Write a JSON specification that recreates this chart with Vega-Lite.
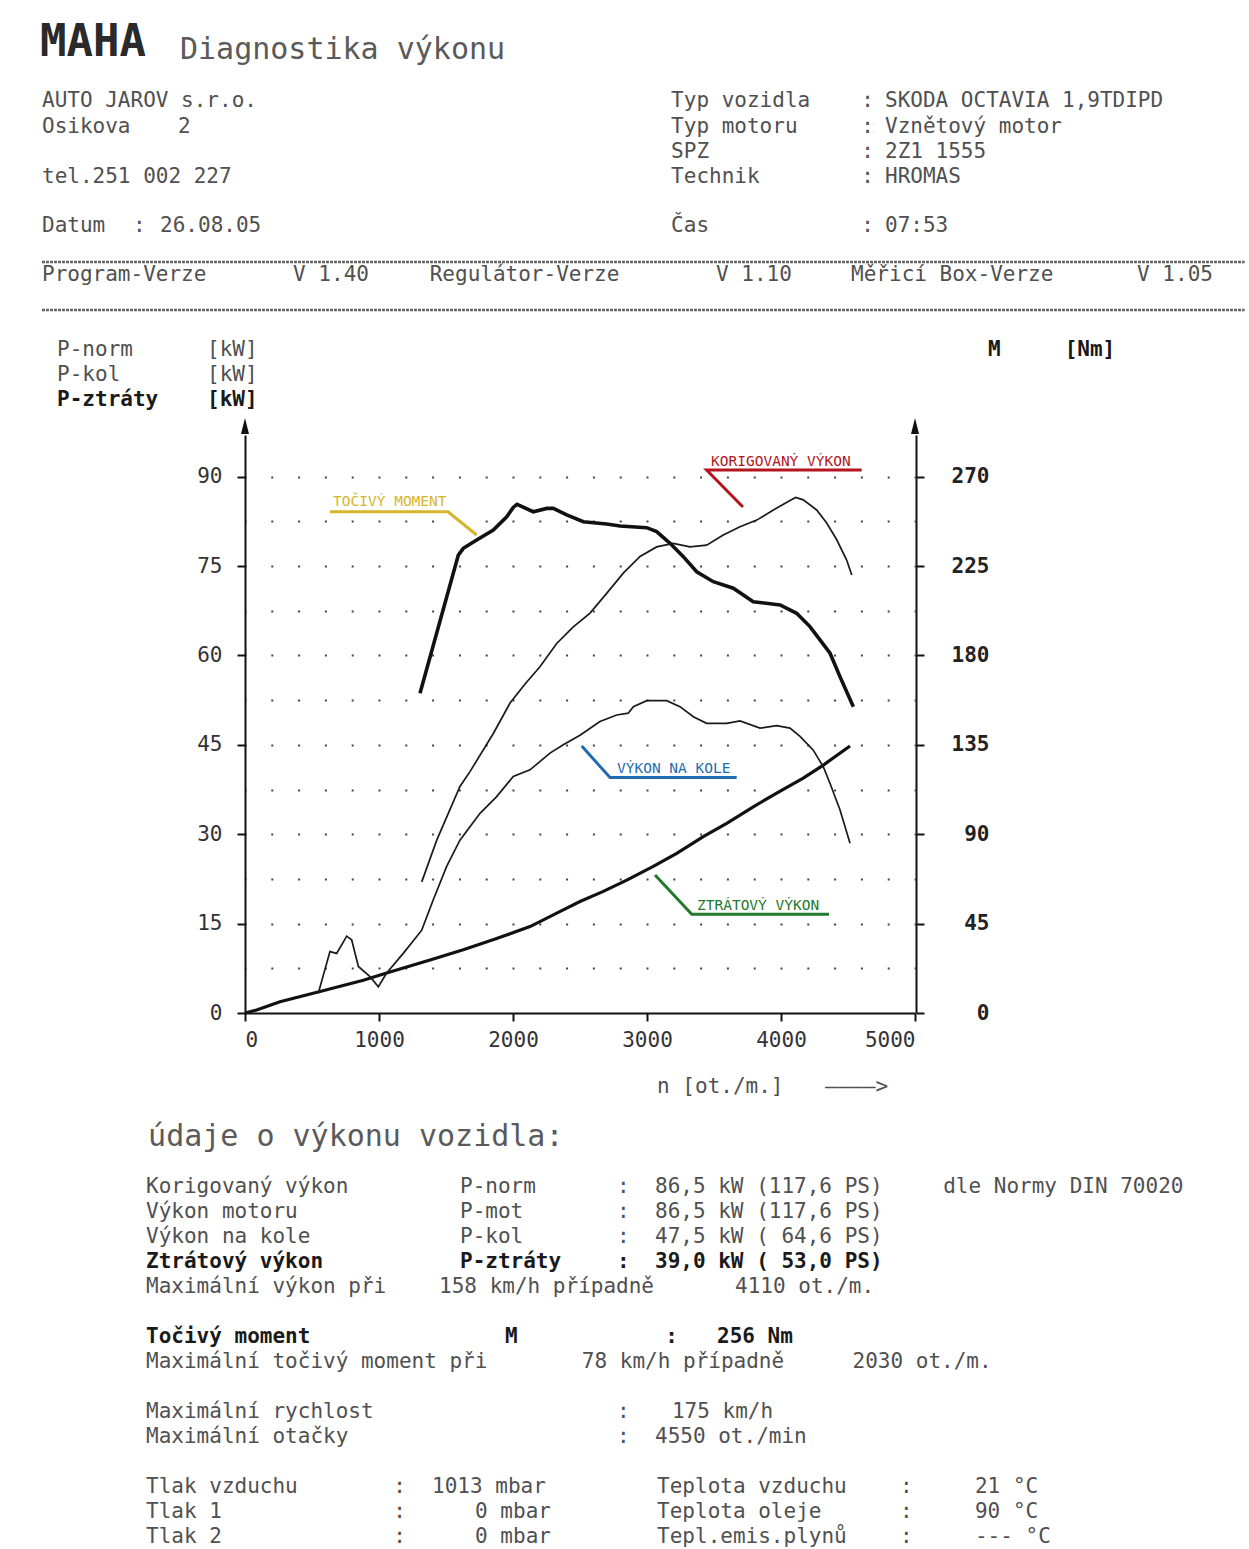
{
  "$schema": "https://vega.github.io/schema/vega-lite/v6.json",
  "width": 1249,
  "height": 1549,
  "autosize": {"type": "none"},
  "padding": 0,
  "background": "white",
  "config": {
    "view": {"stroke": null},
    "axis": {"domainColor": "#111", "domainWidth": 2, "tickColor": "#111", "tickWidth": 2, "tickSize": 8, "labelFont": "DejaVu Sans Mono", "labelFontSize": 21, "labelColor": "#333", "title": null}
  },
  "datasets": {
    "power": [
      {"series": "P-norm", "rpm": 1319, "kw": 22.0}, {"series": "P-norm", "rpm": 1431, "kw": 29.0}, {"series": "P-norm", "rpm": 1604, "kw": 38.0}, {"series": "P-norm", "rpm": 1679, "kw": 40.5}, {"series": "P-norm", "rpm": 1853, "kw": 46.9}, {"series": "P-norm", "rpm": 1978, "kw": 52.0}, {"series": "P-norm", "rpm": 2090, "kw": 55.2}, {"series": "P-norm", "rpm": 2201, "kw": 58.1}, {"series": "P-norm", "rpm": 2326, "kw": 62.0}, {"series": "P-norm", "rpm": 2450, "kw": 64.8}, {"series": "P-norm", "rpm": 2575, "kw": 67.1}, {"series": "P-norm", "rpm": 2699, "kw": 70.4}, {"series": "P-norm", "rpm": 2823, "kw": 73.8}, {"series": "P-norm", "rpm": 2948, "kw": 76.6}, {"series": "P-norm", "rpm": 3072, "kw": 78.2}, {"series": "P-norm", "rpm": 3196, "kw": 78.8}, {"series": "P-norm", "rpm": 3321, "kw": 78.2}, {"series": "P-norm", "rpm": 3445, "kw": 78.5}, {"series": "P-norm", "rpm": 3569, "kw": 80.2}, {"series": "P-norm", "rpm": 3694, "kw": 81.6}, {"series": "P-norm", "rpm": 3819, "kw": 82.7}, {"series": "P-norm", "rpm": 3943, "kw": 84.4}, {"series": "P-norm", "rpm": 4067, "kw": 86.0}, {"series": "P-norm", "rpm": 4110, "kw": 86.5}, {"series": "P-norm", "rpm": 4166, "kw": 86.1}, {"series": "P-norm", "rpm": 4266, "kw": 84.4}, {"series": "P-norm", "rpm": 4341, "kw": 82.2}, {"series": "P-norm", "rpm": 4416, "kw": 79.4}, {"series": "P-norm", "rpm": 4490, "kw": 76.0}, {"series": "P-norm", "rpm": 4528, "kw": 73.5},
      {"series": "P-kol", "rpm": 547, "kw": 3.3}, {"series": "P-kol", "rpm": 634, "kw": 10.3}, {"series": "P-kol", "rpm": 684, "kw": 10.0}, {"series": "P-kol", "rpm": 759, "kw": 12.9}, {"series": "P-kol", "rpm": 796, "kw": 12.3}, {"series": "P-kol", "rpm": 846, "kw": 7.8}, {"series": "P-kol", "rpm": 933, "kw": 6.1}, {"series": "P-kol", "rpm": 995, "kw": 4.4}, {"series": "P-kol", "rpm": 1057, "kw": 6.7}, {"series": "P-kol", "rpm": 1181, "kw": 10.0}, {"series": "P-kol", "rpm": 1319, "kw": 13.9}, {"series": "P-kol", "rpm": 1405, "kw": 19.0}, {"series": "P-kol", "rpm": 1505, "kw": 24.6}, {"series": "P-kol", "rpm": 1604, "kw": 29.0}, {"series": "P-kol", "rpm": 1754, "kw": 33.5}, {"series": "P-kol", "rpm": 1878, "kw": 36.3}, {"series": "P-kol", "rpm": 2002, "kw": 39.7}, {"series": "P-kol", "rpm": 2127, "kw": 40.8}, {"series": "P-kol", "rpm": 2276, "kw": 43.6}, {"series": "P-kol", "rpm": 2375, "kw": 45.0}, {"series": "P-kol", "rpm": 2500, "kw": 46.6}, {"series": "P-kol", "rpm": 2649, "kw": 48.9}, {"series": "P-kol", "rpm": 2774, "kw": 50.0}, {"series": "P-kol", "rpm": 2860, "kw": 50.3}, {"series": "P-kol", "rpm": 2898, "kw": 51.4}, {"series": "P-kol", "rpm": 2998, "kw": 52.4}, {"series": "P-kol", "rpm": 3147, "kw": 52.4}, {"series": "P-kol", "rpm": 3246, "kw": 51.4}, {"series": "P-kol", "rpm": 3346, "kw": 49.7}, {"series": "P-kol", "rpm": 3445, "kw": 48.6}, {"series": "P-kol", "rpm": 3595, "kw": 48.6}, {"series": "P-kol", "rpm": 3694, "kw": 49.0}, {"series": "P-kol", "rpm": 3843, "kw": 47.8}, {"series": "P-kol", "rpm": 3968, "kw": 48.2}, {"series": "P-kol", "rpm": 4067, "kw": 47.8}, {"series": "P-kol", "rpm": 4142, "kw": 46.4}, {"series": "P-kol", "rpm": 4241, "kw": 44.1}, {"series": "P-kol", "rpm": 4316, "kw": 41.3}, {"series": "P-kol", "rpm": 4366, "kw": 38.5}, {"series": "P-kol", "rpm": 4440, "kw": 34.1}, {"series": "P-kol", "rpm": 4515, "kw": 28.5},
      {"series": "P-ztráty", "rpm": 0, "kw": 0}, {"series": "P-ztráty", "rpm": 87, "kw": 0.5}, {"series": "P-ztráty", "rpm": 261, "kw": 1.9}, {"series": "P-ztráty", "rpm": 560, "kw": 3.6}, {"series": "P-ztráty", "rpm": 883, "kw": 5.5}, {"series": "P-ztráty", "rpm": 1057, "kw": 6.7}, {"series": "P-ztráty", "rpm": 1381, "kw": 8.9}, {"series": "P-ztráty", "rpm": 1629, "kw": 10.6}, {"series": "P-ztráty", "rpm": 1878, "kw": 12.5}, {"series": "P-ztráty", "rpm": 2127, "kw": 14.5}, {"series": "P-ztráty", "rpm": 2375, "kw": 17.3}, {"series": "P-ztráty", "rpm": 2500, "kw": 18.7}, {"series": "P-ztráty", "rpm": 2674, "kw": 20.4}, {"series": "P-ztráty", "rpm": 2849, "kw": 22.3}, {"series": "P-ztráty", "rpm": 3047, "kw": 24.6}, {"series": "P-ztráty", "rpm": 3222, "kw": 26.8}, {"series": "P-ztráty", "rpm": 3420, "kw": 29.6}, {"series": "P-ztráty", "rpm": 3595, "kw": 31.8}, {"series": "P-ztráty", "rpm": 3793, "kw": 34.6}, {"series": "P-ztráty", "rpm": 3968, "kw": 36.9}, {"series": "P-ztráty", "rpm": 4166, "kw": 39.4}, {"series": "P-ztráty", "rpm": 4316, "kw": 41.6}, {"series": "P-ztráty", "rpm": 4515, "kw": 44.8}
    ],
    "moment": [
      {"rpm": 1306, "nm": 160.9}, {"rpm": 1592, "nm": 230.5}, {"rpm": 1629, "nm": 233.9}, {"rpm": 1729, "nm": 238.1}, {"rpm": 1853, "nm": 243.1}, {"rpm": 1953, "nm": 249.8}, {"rpm": 2002, "nm": 254.5}, {"rpm": 2030, "nm": 256.0}, {"rpm": 2152, "nm": 252.3}, {"rpm": 2252, "nm": 254.0}, {"rpm": 2301, "nm": 254.0}, {"rpm": 2401, "nm": 250.7}, {"rpm": 2525, "nm": 247.3}, {"rpm": 2699, "nm": 246.1}, {"rpm": 2799, "nm": 245.1}, {"rpm": 2998, "nm": 244.3}, {"rpm": 3072, "nm": 242.3}, {"rpm": 3172, "nm": 236.4}, {"rpm": 3271, "nm": 229.7}, {"rpm": 3371, "nm": 222.1}, {"rpm": 3495, "nm": 217.1}, {"rpm": 3644, "nm": 213.8}, {"rpm": 3793, "nm": 207.0}, {"rpm": 3993, "nm": 205.4}, {"rpm": 4117, "nm": 201.2}, {"rpm": 4216, "nm": 194.5}, {"rpm": 4291, "nm": 187.8}, {"rpm": 4366, "nm": 181.1}, {"rpm": 4440, "nm": 169.3}, {"rpm": 4540, "nm": 154.2}
    ],
    "callouts": [
      {"callout": "moment", "i": 1, "rpm": 634, "kw": 84.1}, {"callout": "moment", "i": 2, "rpm": 1515, "kw": 84.1}, {"callout": "moment", "i": 3, "rpm": 1729, "kw": 80.2},
      {"callout": "norm", "i": 1, "rpm": 4602, "kw": 91.1}, {"callout": "norm", "i": 2, "rpm": 3445, "kw": 91.1}, {"callout": "norm", "i": 3, "rpm": 3716, "kw": 84.9},
      {"callout": "kol", "i": 1, "rpm": 2513, "kw": 44.8}, {"callout": "kol", "i": 2, "rpm": 2724, "kw": 39.5}, {"callout": "kol", "i": 3, "rpm": 3669, "kw": 39.5},
      {"callout": "ztraty", "i": 1, "rpm": 3060, "kw": 23.15}, {"callout": "ztraty", "i": 2, "rpm": 3334, "kw": 16.56}, {"callout": "ztraty", "i": 3, "rpm": 4358, "kw": 16.56}
    ],
    "calloutText": [
      {"callout": "moment", "t": "TOČIVÝ MOMENT", "rpm": 657, "kw": 85.74},
      {"callout": "norm", "t": "KORIGOVANÝ VÝKON", "rpm": 3478, "kw": 92.45},
      {"callout": "kol", "t": "VÝKON NA KOLE", "rpm": 2776, "kw": 40.94},
      {"callout": "ztraty", "t": "ZTRÁTOVÝ VÝKON", "rpm": 3373, "kw": 17.95}
    ],
    "arrows": [{"rpm": 0, "kw": 98.5}, {"rpm": 5000, "kw": 98.5}],
    "rules": [{"col": 0, "col2": 82.2, "line": 10.44}, {"col": 0, "col2": 82.2, "line": 12.36}],
    "texts": [
      {"g": "logo", "t": "MAHA", "col": -0.14, "line": 1.68},
      {"g": "title", "t": "Diagnostika výkonu", "col": 9.43, "line": 1.96},
      {"g": "text", "t": "AUTO JAROV s.r.o.", "col": 0, "line": 4},
      {"g": "text", "t": "Osikova", "col": 0, "line": 5.04},
      {"g": "text", "t": "2", "col": 9.3, "line": 5.04},
      {"g": "text", "t": "tel.251 002 227", "col": 0, "line": 7.04},
      {"g": "text", "t": "Datum", "col": 0, "line": 9},
      {"g": "text", "t": ":", "col": 6.22, "line": 9},
      {"g": "text", "t": "26.08.05", "col": 8.07, "line": 9},
      {"g": "text", "t": "Typ vozidla", "col": 43, "line": 4},
      {"g": "text", "t": ":", "col": 56, "line": 4},
      {"g": "text", "t": "SKODA OCTAVIA 1,9TDIPD", "col": 57.62, "line": 4},
      {"g": "text", "t": "Typ motoru", "col": 43, "line": 5.04},
      {"g": "text", "t": ":", "col": 56, "line": 5.04},
      {"g": "text", "t": "Vznětový motor", "col": 57.62, "line": 5.04},
      {"g": "text", "t": "SPZ", "col": 43, "line": 6.04},
      {"g": "text", "t": ":", "col": 56, "line": 6.04},
      {"g": "text", "t": "2Z1 1555", "col": 57.62, "line": 6.04},
      {"g": "text", "t": "Technik", "col": 43, "line": 7.04},
      {"g": "text", "t": ":", "col": 56, "line": 7.04},
      {"g": "text", "t": "HROMAS", "col": 57.62, "line": 7.04},
      {"g": "text", "t": "Čas", "col": 43, "line": 9},
      {"g": "text", "t": ":", "col": 56, "line": 9},
      {"g": "text", "t": "07:53", "col": 57.62, "line": 9},
      {"g": "text", "t": "Program-Verze", "col": 0, "line": 10.96},
      {"g": "text", "t": "V 1.40", "col": 17.16, "line": 10.96},
      {"g": "text", "t": "Regulátor-Verze", "col": 26.5, "line": 10.96},
      {"g": "text", "t": "V 1.10", "col": 46.07, "line": 10.96},
      {"g": "text", "t": "Měřicí Box-Verze", "col": 55.3, "line": 10.96},
      {"g": "text", "t": "V 1.05", "col": 74.85, "line": 10.96},
      {"g": "text", "t": "P-norm", "col": 1.03, "line": 13.96},
      {"g": "text", "t": "[kW]", "col": 11.28, "line": 13.96},
      {"g": "text", "t": "P-kol", "col": 1.03, "line": 14.96},
      {"g": "text", "t": "[kW]", "col": 11.28, "line": 14.96},
      {"g": "bold", "t": "P-ztráty", "col": 1.03, "line": 15.96},
      {"g": "bold", "t": "[kW]", "col": 11.28, "line": 15.96},
      {"g": "bold", "t": "M", "col": 64.66, "line": 13.96},
      {"g": "bold", "t": "[Nm]", "col": 69.9, "line": 13.96},
      {"g": "text", "t": "n [ot./m.]", "col": 42.04, "line": 43.44},
      {"g": "text", "t": "————>", "col": 53.52, "line": 43.44},
      {"g": "title", "t": "údaje o výkonu vozidla:", "col": 7.25, "line": 45.44},
      {"g": "text", "t": "Korigovaný výkon", "col": 7.11, "line": 47.44},
      {"g": "text", "t": "P-norm", "col": 28.57, "line": 47.44},
      {"g": "text", "t": ":", "col": 39.3, "line": 47.44},
      {"g": "text", "t": "86,5 kW (117,6 PS)", "col": 41.9, "line": 47.44},
      {"g": "text", "t": "dle Normy DIN 70020", "col": 61.6, "line": 47.44},
      {"g": "text", "t": "Výkon motoru", "col": 7.11, "line": 48.44},
      {"g": "text", "t": "P-mot", "col": 28.57, "line": 48.44},
      {"g": "text", "t": ":", "col": 39.3, "line": 48.44},
      {"g": "text", "t": "86,5 kW (117,6 PS)", "col": 41.9, "line": 48.44},
      {"g": "text", "t": "Výkon na kole", "col": 7.11, "line": 49.44},
      {"g": "text", "t": "P-kol", "col": 28.57, "line": 49.44},
      {"g": "text", "t": ":", "col": 39.3, "line": 49.44},
      {"g": "text", "t": "47,5 kW ( 64,6 PS)", "col": 41.9, "line": 49.44},
      {"g": "bold", "t": "Ztrátový výkon", "col": 7.11, "line": 50.44},
      {"g": "bold", "t": "P-ztráty", "col": 28.57, "line": 50.44},
      {"g": "bold", "t": ":", "col": 39.3, "line": 50.44},
      {"g": "bold", "t": "39,0 kW ( 53,0 PS)", "col": 41.9, "line": 50.44},
      {"g": "text", "t": "Maximální výkon při", "col": 7.11, "line": 51.44},
      {"g": "text", "t": "158 km/h případně", "col": 27.14, "line": 51.44},
      {"g": "text", "t": "4110 ot./m.", "col": 47.37, "line": 51.44},
      {"g": "bold", "t": "Točivý moment", "col": 7.11, "line": 53.44},
      {"g": "bold", "t": "M", "col": 31.65, "line": 53.44},
      {"g": "bold", "t": ":", "col": 42.6, "line": 53.44},
      {"g": "bold", "t": "256 Nm", "col": 46.14, "line": 53.44},
      {"g": "text", "t": "Maximální točivý moment při", "col": 7.11, "line": 54.44},
      {"g": "text", "t": "78 km/h případně", "col": 36.9, "line": 54.44},
      {"g": "text", "t": "2030 ot./m.", "col": 55.4, "line": 54.44},
      {"g": "text", "t": "Maximální rychlost", "col": 7.11, "line": 56.44},
      {"g": "text", "t": ":", "col": 39.3, "line": 56.44},
      {"g": "text", "t": "175 km/h", "col": 43.06, "line": 56.44},
      {"g": "text", "t": "Maximální otačky", "col": 7.11, "line": 57.44},
      {"g": "text", "t": ":", "col": 39.3, "line": 57.44},
      {"g": "text", "t": "4550 ot./min", "col": 41.9, "line": 57.44},
      {"g": "text", "t": "Tlak vzduchu", "col": 7.11, "line": 59.44},
      {"g": "text", "t": ":", "col": 24.0, "line": 59.44},
      {"g": "text", "t": "1013 mbar", "col": 26.66, "line": 59.44},
      {"g": "text", "t": "Teplota vzduchu", "col": 42.04, "line": 59.44},
      {"g": "text", "t": ":", "col": 58.65, "line": 59.44},
      {"g": "text", "t": "21 °C", "col": 63.77, "line": 59.44},
      {"g": "text", "t": "Tlak 1", "col": 7.11, "line": 60.44},
      {"g": "text", "t": ":", "col": 24.0, "line": 60.44},
      {"g": "text", "t": "0 mbar", "col": 29.6, "line": 60.44},
      {"g": "text", "t": "Teplota oleje", "col": 42.04, "line": 60.44},
      {"g": "text", "t": ":", "col": 58.65, "line": 60.44},
      {"g": "text", "t": "90 °C", "col": 63.77, "line": 60.44},
      {"g": "text", "t": "Tlak 2", "col": 7.11, "line": 61.44},
      {"g": "text", "t": ":", "col": 24.0, "line": 61.44},
      {"g": "text", "t": "0 mbar", "col": 29.6, "line": 61.44},
      {"g": "text", "t": "Tepl.emis.plynů", "col": 42.04, "line": 61.44},
      {"g": "text", "t": ":", "col": 58.65, "line": 61.44},
      {"g": "text", "t": "--- °C", "col": 63.77, "line": 61.44}
    ]
  },
  "layer": [
    {
      "layer": [
        {
          "data": {"name": "power"},
          "transform": [{"filter": {"field": "series", "equal": "P-ztráty"}}],
          "mark": {"type": "line", "color": "#111", "strokeWidth": 3.2},
          "encoding": {
            "x": {"field": "rpm", "type": "quantitative", "scale": {"domain": [0, 5000], "range": [245, 915], "nice": false, "zero": false},
              "axis": {"orient": "bottom", "offset": -536, "values": [0, 1000, 2000, 3000, 4000, 5000], "format": "d", "grid": false, "labelDx": -8, "labelPadding": 8, "labelBaseline": "top"}},
            "y": {"field": "kw", "type": "quantitative", "scale": {"domain": [0, 97], "range": [1013, 434.88], "nice": false, "zero": false},
              "axis": {"orient": "left", "offset": -245, "values": [0, 7.5, 15, 22.5, 30, 37.5, 45, 52.5, 60, 67.5, 75, 82.5, 90],
                "labelExpr": "datum.value % 15 === 0 ? datum.label : ''", "labelPadding": 15, "labelBaseline": "middle",
                "tickOpacity": {"condition": {"test": "datum.value % 15 !== 0", "value": 0}, "value": 1},
                "grid": true, "gridColor": "#444", "gridWidth": 2, "gridDash": [2, 24.8], "gridDashOffset": 1,
                "gridOpacity": {"condition": {"test": "datum.value === 0", "value": 0}, "value": 1}}}
          }
        },
        {
          "data": {"name": "power"},
          "transform": [{"filter": {"field": "series", "equal": "P-norm"}}],
          "mark": {"type": "line", "color": "#1a1a1a", "strokeWidth": 1.7},
          "encoding": {
            "x": {"field": "rpm", "type": "quantitative"},
            "y": {"field": "kw", "type": "quantitative"}
          }
        },
        {
          "data": {"name": "power"},
          "transform": [{"filter": {"field": "series", "equal": "P-kol"}}],
          "mark": {"type": "line", "color": "#1a1a1a", "strokeWidth": 1.7},
          "encoding": {
            "x": {"field": "rpm", "type": "quantitative"},
            "y": {"field": "kw", "type": "quantitative"}
          }
        },
        {
          "data": {"name": "callouts"},
          "mark": {"type": "line", "strokeWidth": 3},
          "encoding": {
            "x": {"field": "rpm", "type": "quantitative"},
            "y": {"field": "kw", "type": "quantitative"},
            "order": {"field": "i"},
            "color": {"field": "callout", "type": "nominal", "scale": {"domain": ["moment", "norm", "kol", "ztraty"], "range": ["#d6b52a", "#b3141d", "#1f6cb0", "#23792c"]}, "legend": null}
          }
        },
        {
          "data": {"name": "calloutText"},
          "mark": {"type": "text", "align": "left", "baseline": "middle", "font": "DejaVu Sans Mono", "fontSize": 14.5},
          "encoding": {
            "x": {"field": "rpm", "type": "quantitative"},
            "y": {"field": "kw", "type": "quantitative"},
            "text": {"field": "t"},
            "color": {"field": "callout", "type": "nominal", "legend": null}
          }
        },
        {
          "data": {"name": "arrows"},
          "mark": {"type": "point", "shape": "M0,-1L0.5,1L-0.5,1Z", "size": 256, "filled": true, "color": "#111", "opacity": 1, "strokeWidth": 0},
          "encoding": {
            "x": {"field": "rpm", "type": "quantitative"},
            "y": {"field": "kw", "type": "quantitative"}
          }
        }
      ]
    },
    {
      "data": {"name": "moment"},
      "mark": {"type": "line", "color": "#111", "strokeWidth": 3.6},
      "encoding": {
        "x": {"field": "rpm", "type": "quantitative", "scale": {"domain": [0, 5000], "range": [245, 915], "nice": false, "zero": false}, "axis": null},
        "y": {"field": "nm", "type": "quantitative", "scale": {"domain": [0, 291], "range": [1013, 434.88], "nice": false, "zero": false},
          "axis": {"orient": "right", "offset": -333, "values": [0, 45, 90, 135, 180, 225, 270], "grid": false, "labelFontWeight": "bold", "labelColor": "#222", "labelAlign": "right", "labelPadding": 65, "labelBaseline": "middle"}}
      }
    },
    {
      "layer": [
        {
          "data": {"name": "rules"},
          "mark": {"type": "rule", "color": "#666", "strokeWidth": 2.5, "strokeDash": [3, 1]},
          "encoding": {
            "x": {"field": "col", "type": "quantitative", "scale": {"domain": [0, 82.5], "range": [42, 1249], "nice": false, "zero": false}, "axis": null},
            "x2": {"field": "col2"},
            "y": {"field": "line", "type": "quantitative", "scale": {"domain": [0, 62], "range": [1, 1551], "nice": false, "zero": false}, "axis": null}
          }
        },
        {
          "data": {"name": "texts"},
          "transform": [{"filter": {"field": "g", "equal": "text"}}],
          "mark": {"type": "text", "align": "left", "baseline": "middle", "font": "DejaVu Sans Mono", "fontSize": 21, "color": "#505050"},
          "encoding": {
            "x": {"field": "col", "type": "quantitative", "axis": null},
            "y": {"field": "line", "type": "quantitative", "axis": null},
            "text": {"field": "t"}
          }
        },
        {
          "data": {"name": "texts"},
          "transform": [{"filter": {"field": "g", "equal": "bold"}}],
          "mark": {"type": "text", "align": "left", "baseline": "middle", "font": "DejaVu Sans Mono", "fontSize": 21, "fontWeight": "bold", "color": "#1a1a1a"},
          "encoding": {
            "x": {"field": "col", "type": "quantitative", "axis": null},
            "y": {"field": "line", "type": "quantitative", "axis": null},
            "text": {"field": "t"}
          }
        },
        {
          "data": {"name": "texts"},
          "transform": [{"filter": {"field": "g", "equal": "title"}}],
          "mark": {"type": "text", "align": "left", "baseline": "middle", "font": "DejaVu Sans Mono", "fontSize": 30, "color": "#5a5a5a"},
          "encoding": {
            "x": {"field": "col", "type": "quantitative", "axis": null},
            "y": {"field": "line", "type": "quantitative", "axis": null},
            "text": {"field": "t"}
          }
        },
        {
          "data": {"name": "texts"},
          "transform": [{"filter": {"field": "g", "equal": "logo"}}],
          "mark": {"type": "text", "align": "left", "baseline": "middle", "font": "DejaVu Sans Mono", "fontSize": 44, "fontWeight": "bold", "color": "#2a2a2a"},
          "encoding": {
            "x": {"field": "col", "type": "quantitative", "axis": null},
            "y": {"field": "line", "type": "quantitative", "axis": null},
            "text": {"field": "t"}
          }
        }
      ]
    }
  ],
  "resolve": {"scale": {"x": "independent", "y": "independent", "color": "independent"}, "axis": {"x": "independent", "y": "independent"}}
}
